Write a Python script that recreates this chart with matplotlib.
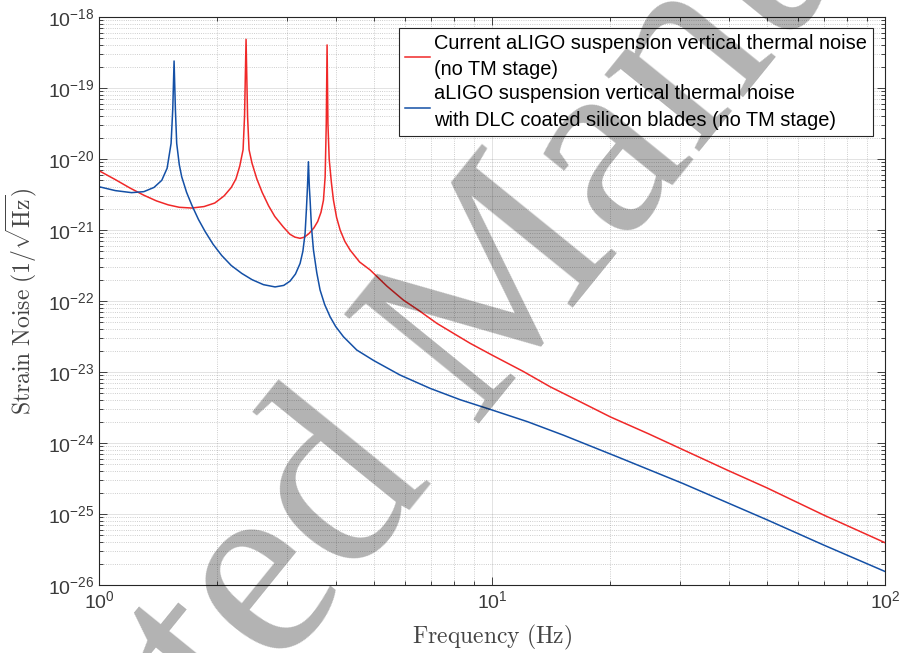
import matplotlib
matplotlib.use('Agg')
import matplotlib.pyplot as plt
import numpy as np
from matplotlib.ticker import LogLocator, NullFormatter

plt.rcParams['font.family'] = ['Liberation Sans', 'DejaVu Sans']
plt.rcParams['mathtext.fontset'] = 'cm'

# current aLIGO suspension (red)
red_f = [1.0, 1.1, 1.2, 1.3, 1.4, 1.5, 1.6, 1.72, 1.85, 1.97, 2.08, 2.17, 2.23, 2.28,
         2.325, 2.345, 2.366, 2.387, 2.408, 2.45, 2.52, 2.6, 2.7, 2.8, 2.944, 3.06,
         3.15, 3.247, 3.33, 3.42, 3.52, 3.6, 3.67, 3.723, 3.76, 3.785, 3.803, 3.822,
         3.85, 3.9, 3.947, 4.02, 4.105, 4.22, 4.352, 4.6, 4.893, 5.4, 5.948, 6.5,
         7.234, 8.0, 8.79, 10.0, 12.0, 14.05, 16.5, 19.97, 25.0, 30.1, 39.6, 50.0,
         69.7, 100.0]
red_h = [6.84e-21, 5.13e-21, 3.89e-21, 3.09e-21, 2.57e-21, 2.26e-21, 2.09e-21,
         2.04e-21, 2.14e-21, 2.40e-21, 3.02e-21, 3.98e-21, 5.25e-21, 7.94e-21,
         1.35e-20, 3.98e-20, 4.85e-19, 3.98e-20, 1.35e-20, 8.71e-21, 5.25e-21,
         3.39e-21, 2.19e-21, 1.55e-21, 1.10e-21, 8.71e-22, 7.94e-22, 7.64e-22,
         7.94e-22, 8.91e-22, 1.07e-21, 1.32e-21, 1.78e-21, 2.63e-21, 5.62e-21,
         3.16e-20, 4.04e-19, 3.16e-20, 1.0e-20, 4.68e-21, 2.65e-21, 1.51e-21,
         1.0e-21, 6.92e-22, 5.22e-22, 3.55e-22, 2.74e-22, 1.62e-22, 1.03e-22,
         7.41e-23, 4.85e-23, 3.47e-23, 2.54e-23, 1.73e-23, 1.02e-23, 6.2e-24,
         3.98e-24, 2.34e-24, 1.35e-24, 8.4e-25, 4.17e-25, 2.34e-25, 9.7e-26, 3.94e-26]

# DLC coated silicon blades (blue)
blue_f = [1.0, 1.1, 1.21, 1.3, 1.38, 1.444, 1.49, 1.525, 1.54, 1.552, 1.564, 1.576,
          1.6, 1.623, 1.67, 1.722, 1.79, 1.861, 1.95, 2.052, 2.17, 2.307, 2.45, 2.62,
          2.804, 2.95, 3.062, 3.16, 3.247, 3.30, 3.343, 3.37, 3.39, 3.409, 3.428,
          3.443, 3.47, 3.511, 3.58, 3.65, 3.75, 3.871, 4.0, 4.186, 4.526, 5.0, 5.83,
          6.955, 8.3, 10.0, 12.3, 15.19, 20.96, 30.6, 50.0, 70.0, 100.0]
blue_h = [4.07e-21, 3.59e-21, 3.36e-21, 3.47e-21, 3.98e-21, 5.01e-21, 7.41e-21,
          1.66e-20, 5.01e-20, 2.40e-19, 5.01e-20, 1.66e-20, 8.32e-21, 5.62e-21,
          3.39e-21, 2.24e-21, 1.41e-21, 9.55e-22, 6.31e-22, 4.37e-22, 3.16e-22,
          2.45e-22, 2.0e-22, 1.70e-22, 1.58e-22, 1.66e-22, 1.91e-22, 2.40e-22,
          3.39e-22, 5.01e-22, 8.91e-22, 2.0e-21, 3.98e-21, 9.16e-21, 3.98e-21,
          2.63e-21, 1.12e-21, 5.25e-22, 2.51e-22, 1.43e-22, 8.91e-23, 6.0e-23,
          4.37e-23, 3.14e-23, 2.04e-23, 1.45e-23, 9.08e-24, 5.89e-24, 4.07e-24,
          2.92e-24, 2.0e-24, 1.29e-24, 6.31e-25, 2.69e-25, 8.32e-26, 3.63e-26, 1.55e-26]

labels = ['Current aLIGO suspension vertical thermal noise\n(no TM stage)',
          'aLIGO suspension vertical thermal noise\nwith DLC coated silicon blades (no TM stage)']

dark = '#262626'

fig = plt.figure(figsize=(9.02, 6.53), dpi=100)
ax = fig.add_axes([0.1098, 0.104, 0.8716, 0.870])

ax.loglog(red_f, red_h, color='#f02828', lw=1.1, label=labels[0])
ax.loglog(blue_f, blue_h, color='#1450a6', lw=1.1, label=labels[1])

ax.set_xlim(1, 100)
ax.set_ylim(1e-26, 1e-18)
ax.yaxis.set_major_locator(LogLocator(base=10, numticks=20))
ax.yaxis.set_minor_locator(LogLocator(base=10, subs=np.arange(2, 10), numticks=20))
ax.yaxis.set_minor_formatter(NullFormatter())
ax.xaxis.set_minor_formatter(NullFormatter())

ax.grid(True, which='major', color=dark, alpha=0.15, lw=0.6)
ax.grid(True, which='minor', color=dark, alpha=0.3, lw=0.6, ls=':')
ax.tick_params(which='both', direction='in', top=True, right=True, colors=dark,
               labelsize=14, labelcolor='#3a3a3a', width=0.6)
ax.tick_params(which='major', length=6)
ax.tick_params(which='minor', length=3)
for s in ax.spines.values():
    s.set_color(dark)
    s.set_linewidth(0.8)

ax.set_xlabel(r'$\mathrm{Frequency\ (Hz)}$', fontsize=17, color='#444444', labelpad=8)
ax.set_ylabel(r'$\mathrm{Strain\ Noise\ }(1/\sqrt{\mathrm{Hz}})$', fontsize=17,
              color='#444444', labelpad=6)

leg = ax.legend(loc='upper right', bbox_to_anchor=(0.9847, 0.9806), borderaxespad=0,
                fontsize=14.4, fancybox=False, framealpha=1, edgecolor=dark,
                handlelength=1.25, handletextpad=0.2, borderpad=0.3,
                labelspacing=0.25)
leg.get_frame().set_linewidth(0.8)
for t in leg.get_texts():
    t.set_linespacing(1.5)

# journal watermark drawn over the plot
fig.text(0.521, 0.487, 'Accepted Manuscript', rotation=51, fontsize=190,
         family='Liberation Serif', color='k', alpha=0.3, ha='center', va='center',
         rotation_mode='anchor', zorder=10)

fig.savefig('out.png', dpi=100)
